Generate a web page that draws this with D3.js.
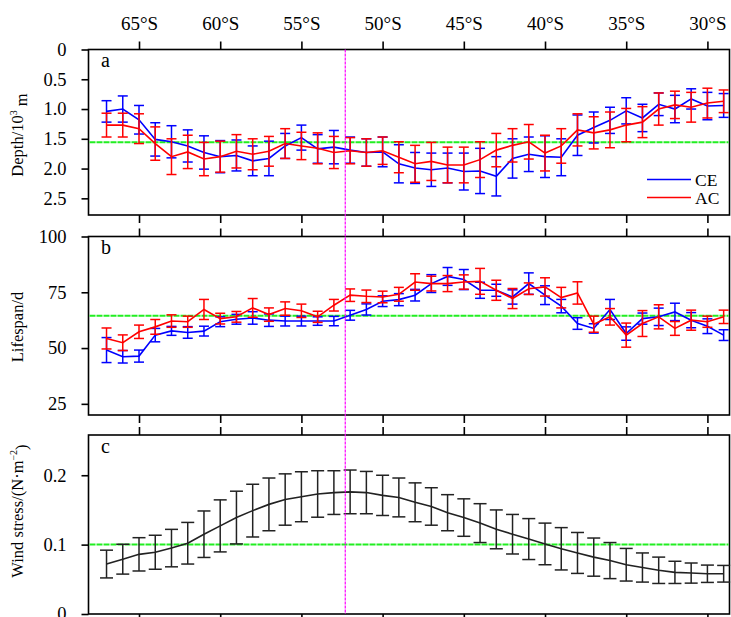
<!DOCTYPE html>
<html><head><meta charset="utf-8">
<script src="https://cdn.jsdelivr.net/npm/d3@7"></script>
<style>body{margin:0;background:#fff}</style>
</head><body><svg id="c" width="731" height="617"></svg>
<script>
// ---------- data ----------
const latitudes = [67,66,65,64,63,62,61,60,59,58,57,56,55,54,53,52,51,50,49,48,47,46,45,44,43,42,41,40,39,38,37,36,35,34,33,32,31,30,29];
const tickLats = [65,60,55,50,45,40,35,30];
const tickLabels = ["65°S","60°S","55°S","50°S","45°S","40°S","35°S","30°S"];

const ceDepth = [1.04,1.00,1.18,1.51,1.55,1.62,1.73,1.80,1.78,1.87,1.83,1.62,1.48,1.67,1.64,1.69,1.73,1.72,1.92,1.99,2.02,1.99,2.05,2.04,2.13,1.83,1.76,1.80,1.81,1.44,1.31,1.19,1.03,1.15,0.92,1.00,0.83,0.95,0.94];
const ceDepthErr = [0.18,0.22,0.24,0.28,0.27,0.27,0.28,0.27,0.26,0.25,0.29,0.21,0.21,0.24,0.28,0.22,0.23,0.25,0.32,0.26,0.28,0.25,0.31,0.38,0.33,0.33,0.29,0.35,0.31,0.34,0.26,0.22,0.22,0.23,0.19,0.23,0.17,0.23,0.20];
const acDepth = [1.27,1.27,1.33,1.58,1.80,1.72,1.84,1.80,1.71,1.76,1.71,1.58,1.62,1.66,1.73,1.70,1.73,1.70,1.81,1.92,1.88,1.94,1.94,1.85,1.69,1.61,1.55,1.74,1.62,1.35,1.40,1.35,1.27,1.22,1.00,0.93,0.97,0.90,0.87];
const acDepthErr = [0.20,0.20,0.25,0.28,0.30,0.28,0.28,0.26,0.28,0.26,0.25,0.25,0.23,0.26,0.27,0.22,0.23,0.23,0.26,0.31,0.32,0.30,0.30,0.30,0.28,0.28,0.29,0.30,0.29,0.27,0.27,0.30,0.28,0.26,0.27,0.23,0.25,0.25,0.19];

const ceLife = [49.1,46.1,46.4,55.8,57.7,57.0,57.6,61.8,62.9,63.5,62.5,62.1,62.1,62.1,62.1,64.7,67.3,71.0,71.7,73.7,78.9,82.1,80.7,75.9,75.9,72.9,78.9,73.7,68.8,61.0,58.8,67.3,56.5,63.2,64.0,66.2,62.5,59.8,55.8];
const ceLifeErr = [5.6,2.8,2.7,3.0,2.0,2.6,2.2,2.2,2.2,2.8,2.8,2.2,2.2,1.9,2.1,2.2,2.5,2.4,2.7,2.6,4.0,4.0,4.5,3.6,2.7,3.2,4.8,4.2,3.0,2.6,2.1,4.5,3.0,2.5,3.9,3.9,3.4,3.3,2.4];
const acLife = [54.3,52.4,57.3,59.5,62.1,61.8,67.3,63.2,64.0,68.0,65.0,67.7,66.7,64.0,69.2,73.7,73.2,72.9,74.1,79.6,78.9,78.9,79.6,79.9,75.9,72.2,76.6,77.4,72.6,74.7,60.7,64.0,55.8,61.0,64.0,58.8,62.5,61.8,64.0];
const acLifeErr = [4.7,3.5,3.0,3.3,2.8,2.5,4.5,2.4,2.4,4.2,3.0,3.0,3.0,2.5,2.6,2.8,2.8,2.6,3.1,3.7,3.3,3.6,3.2,5.8,4.5,4.5,2.6,4.1,4.6,5.0,3.6,3.7,5.4,5.8,5.4,3.1,4.5,2.5,3.0];

const wind = [0.072,0.079,0.086,0.089,0.095,0.102,0.115,0.127,0.139,0.149,0.158,0.165,0.169,0.173,0.175,0.176,0.175,0.171,0.168,0.161,0.155,0.146,0.139,0.131,0.122,0.115,0.108,0.101,0.094,0.088,0.082,0.077,0.071,0.067,0.063,0.060,0.059,0.058,0.058];
const windErr = [0.020,0.0215,0.024,0.0245,0.027,0.030,0.0335,0.0375,0.038,0.038,0.038,0.037,0.036,0.0335,0.0315,0.0315,0.0305,0.029,0.028,0.028,0.027,0.026,0.027,0.028,0.028,0.0285,0.0295,0.030,0.0305,0.0295,0.0275,0.026,0.0235,0.021,0.019,0.016,0.0145,0.0125,0.012];

const depthTicks = [0,0.5,1.0,1.5,2.0,2.5];
const lifeTicks = [25,50,75,100];
const windTicks = [0,0.1,0.2];
const depthRef = 1.56, lifeRef = 64.5, windRef = 0.1;
const boundaryLat = 52.3;

// ---------- drawing ----------
const svg = d3.select('#c');
const font = '"Liberation Serif","Times New Roman",serif';
const L = 88.5, R = 729.5;
const x = d3.scaleLinear().domain([68.11, 28.64]).range([L, R]);

const yA = d3.scaleLinear().domain([0, 2.78]).range([49.5, 215]);
const yB = d3.scaleLinear().domain([20, 100]).range([415, 236.5]);
const yC = d3.scaleLinear().domain([0, 0.258]).range([614, 435]);

function styleAxis(g, fs){
  g.attr('font-family',font).attr('font-size',fs);
  g.select('.domain').remove();
  g.selectAll('line').attr('stroke','#000').attr('stroke-width',1.6);
  g.selectAll('text').attr('font-family',font).attr('font-size',fs).attr('fill','#000');
}

function frame(y, ticks, fmt, topLabels, letter){
  const t = Math.min(...y.range()), b = Math.max(...y.range());
  const g = svg.append('g');
  const top = g.append('g').attr('transform',`translate(0,${t})`)
    .call(d3.axisTop(x).tickValues(tickLats).tickSize(8).tickPadding(12)
      .tickFormat((d,i)=> topLabels ? tickLabels[i] : ''));
  styleAxis(top, 19);
  const bot = g.append('g').attr('transform',`translate(0,${b})`)
    .call(d3.axisBottom(x).tickValues(tickLats).tickSize(8).tickFormat(''));
  styleAxis(bot, 19);
  const left = g.append('g').attr('transform',`translate(${L},0)`)
    .call(d3.axisLeft(y).tickValues(ticks).tickSize(7).tickPadding(15).tickFormat(fmt));
  styleAxis(left, 18.5);
  g.append('rect').attr('x',L).attr('y',t).attr('width',R-L).attr('height',b-t)
    .attr('fill','none').attr('stroke','#000').attr('stroke-width',1.6);
  svg.append('text').attr('x',101).attr('y',t+17.5).text(letter)
    .attr('font-family',font).attr('font-size',20);
}

function refLine(y, v){
  svg.append('line').attr('x1',L+1).attr('x2',R-1).attr('y1',y(v)).attr('y2',y(v))
    .attr('stroke','#22ee22').attr('stroke-width',2).attr('stroke-dasharray','6,1');
}

function series(y, means, errs, color, cap, lw){
  const g = svg.append('g');
  const bars = g.selectAll('g').data(latitudes.map((lat,i)=>({lat, m:means[i], e:errs[i]}))).enter().append('g')
    .attr('stroke',color).attr('stroke-width',lw);
  bars.append('line').attr('x1',d=>x(d.lat)).attr('x2',d=>x(d.lat))
    .attr('y1',d=>y(d.m-d.e)).attr('y2',d=>y(d.m+d.e));
  bars.append('line').attr('x1',d=>x(d.lat)-cap/2).attr('x2',d=>x(d.lat)+cap/2)
    .attr('y1',d=>y(d.m-d.e)).attr('y2',d=>y(d.m-d.e));
  bars.append('line').attr('x1',d=>x(d.lat)-cap/2).attr('x2',d=>x(d.lat)+cap/2)
    .attr('y1',d=>y(d.m+d.e)).attr('y2',d=>y(d.m+d.e));
  g.append('path').datum(latitudes.map((lat,i)=>[lat, means[i]]))
    .attr('fill','none').attr('stroke',color).attr('stroke-width',1.6)
    .attr('d', d3.line().x(d=>x(d[0])).y(d=>y(d[1])));
}

// panel a
frame(yA, depthTicks, d=> d===0 ? '0' : d3.format('.1f')(d), true, 'a');
refLine(yA, depthRef);
series(yA, ceDepth, ceDepthErr, '#0000ff', 10, 1.5);
series(yA, acDepth, acDepthErr, '#ff0000', 10, 1.5);

// panel b
frame(yB, lifeTicks, d=>String(d), false, 'b');
refLine(yB, lifeRef);
series(yB, ceLife, ceLifeErr, '#0000ff', 10, 1.5);
series(yB, acLife, acLifeErr, '#ff0000', 10, 1.5);

// panel c
frame(yC, windTicks, d=> d===0 ? '0' : d3.format('.1f')(d), false, 'c');
refLine(yC, windRef);
series(yC, wind, windErr, '#222', 13, 1.5);

// boundary line
svg.append('line').attr('x1',x(boundaryLat)).attr('x2',x(boundaryLat))
  .attr('y1',Math.min(...yA.range())).attr('y2',Math.max(...yC.range()))
  .attr('stroke','#ff00ff').attr('stroke-width',1.2).attr('stroke-dasharray','3,1');

// legend
const legend = [{name:'CE', color:'#0000ff', y:179.5},{name:'AC', color:'#ff0000', y:197.5}];
legend.forEach(d=>{
  svg.append('line').attr('x1',647).attr('x2',691).attr('y1',d.y).attr('y2',d.y)
    .attr('stroke',d.color).attr('stroke-width',1.6);
  svg.append('text').attr('x',695).attr('y',d.y+6).text(d.name)
    .attr('font-family',font).attr('font-size',17.5);
});

// axis titles
function title(cy, build){
  const t = svg.append('text').attr('transform',`translate(23,${cy}) rotate(-90)`)
    .attr('text-anchor','middle').attr('font-family',font).attr('font-size',16.5);
  build(t);
}
title(135, t=>{ t.append('tspan').text('Depth/10');
  t.append('tspan').text('3').attr('font-size',10).attr('dy','-0.6em');
  t.append('tspan').text(' m').attr('dy','0.6em'); });
title(327, t=>{ t.text('Lifespan/d'); });
title(511, t=>{ t.append('tspan').text('Wind stress/(N·m');
  t.append('tspan').text('−2').attr('font-size',10).attr('dy','-0.6em');
  t.append('tspan').text(')').attr('dy','0.6em'); });
</script>
</body></html>
